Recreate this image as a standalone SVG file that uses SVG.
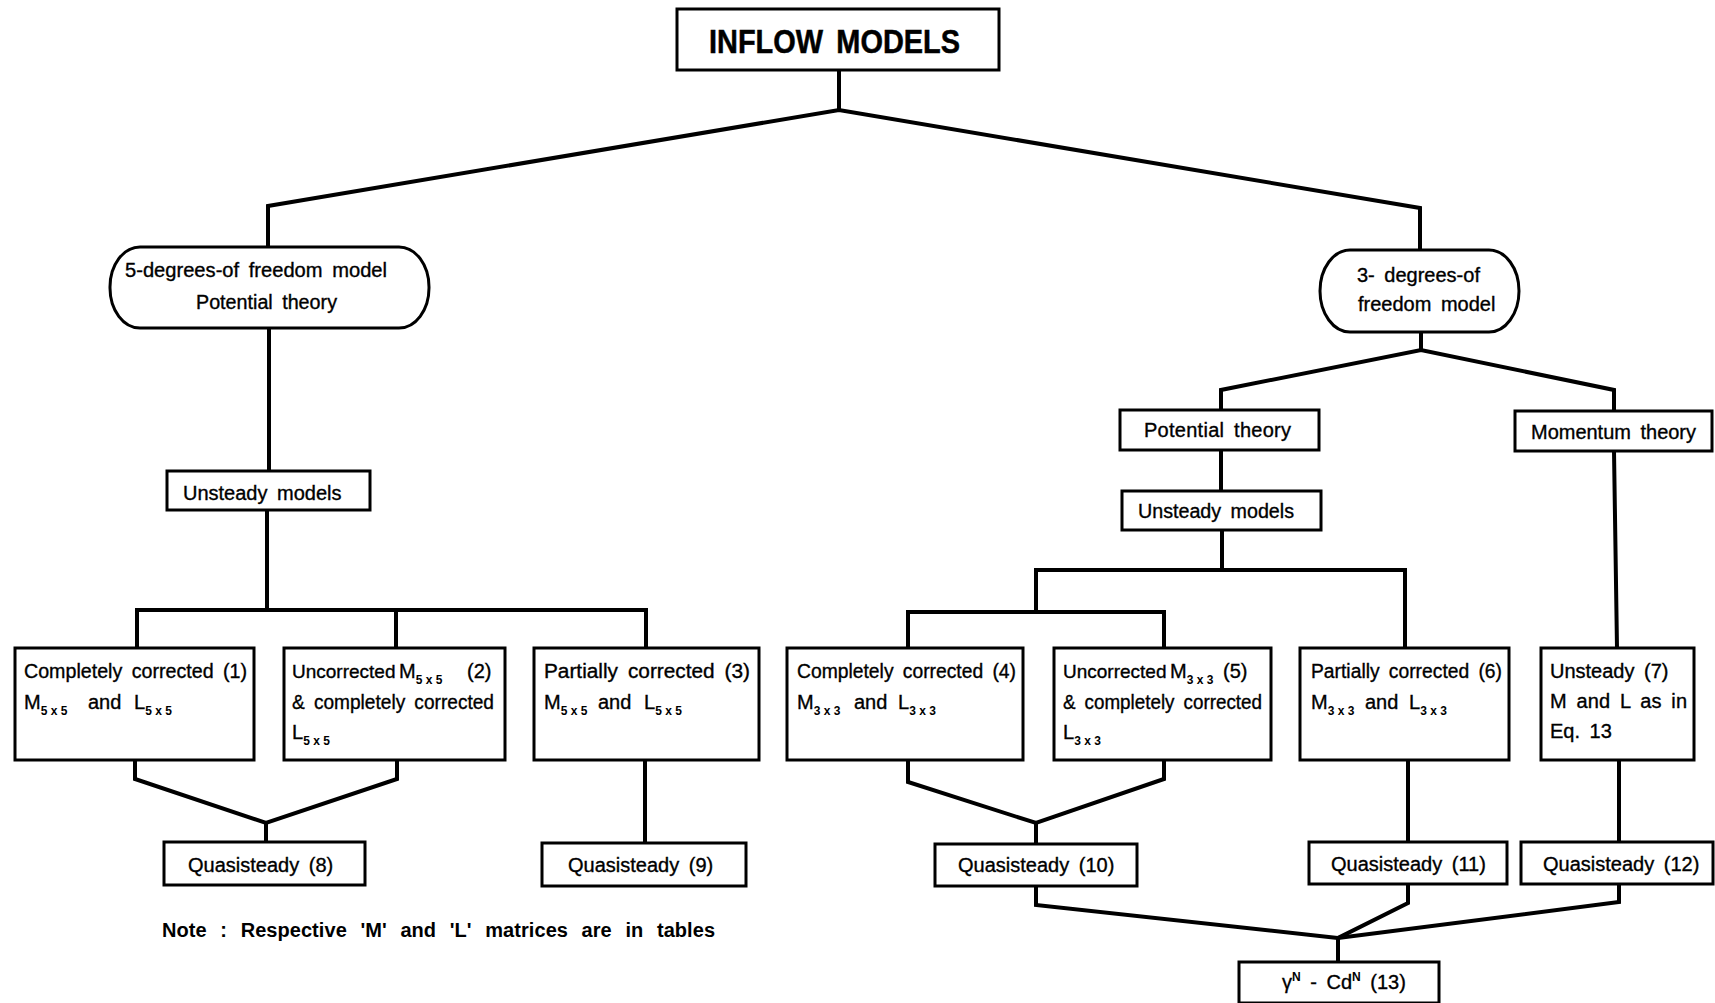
<svg xmlns="http://www.w3.org/2000/svg" width="1715" height="1003" viewBox="0 0 1715 1003">
<style>
  .bg{fill:#ffffff}
  .box{fill:#ffffff;stroke:#000;stroke-width:3}
  .conn{fill:none;stroke:#000;stroke-width:4;stroke-linejoin:miter;stroke-linecap:square}
  text{font-family:"Liberation Sans",Arial,sans-serif;font-size:20px;fill:#000;stroke:#000;stroke-width:0.35;word-spacing:4px}
  .title{font-size:33px;font-weight:bold;word-spacing:6px;stroke-width:0.5}
  .note{font-weight:bold;word-spacing:8px;stroke-width:0}
  .sub{font-size:12px;font-weight:bold;word-spacing:0;stroke-width:0}
  .sup{font-size:12px;font-weight:bold;stroke-width:0}
  .nar{font-size:19px}
</style>
<rect class="bg" x="0" y="0" width="1715" height="1003"/>

<g id="connectors">
  <path class="conn" d="M839,70 V110"/>
  <path class="conn" d="M268,247 V206 L839,110 L1420,208 V250"/>
  <path class="conn" d="M269,328 V471"/>
  <path class="conn" d="M267,510 V610"/>
  <path class="conn" d="M137,648 V610 H646 V648"/>
  <path class="conn" d="M396,610 V648"/>
  <path class="conn" d="M135,760 V779 L266,823 L397,779 V760"/>
  <path class="conn" d="M266,823 V841"/>
  <path class="conn" d="M645,760 V842"/>
  <path class="conn" d="M1421,332 V350"/>
  <path class="conn" d="M1221,410 V390 L1421,350 L1614,390 V411"/>
  <path class="conn" d="M1221,450 V491"/>
  <path class="conn" d="M1222,530 V570"/>
  <path class="conn" d="M1036,612 V570 H1405 V648"/>
  <path class="conn" d="M908,648 V612 H1164 V648"/>
  <path class="conn" d="M1614,451 L1617,648"/>
  <path class="conn" d="M908,760 V782 L1036,823 L1164,779 V760"/>
  <path class="conn" d="M1036,823 V844"/>
  <path class="conn" d="M1408,760 V842"/>
  <path class="conn" d="M1619,760 V842"/>
  <path class="conn" d="M1036,886 V905 L1338,938"/>
  <path class="conn" d="M1408,884 V903 L1338,938"/>
  <path class="conn" d="M1619,884 V902 L1338,938"/>
  <path class="conn" d="M1338,938 V961"/>
</g>

<g id="inflow-models">
  <rect class="box" x="677" y="9" width="322" height="61"/>
  <text class="title" x="709" y="53" textLength="251" lengthAdjust="spacingAndGlyphs">INFLOW MODELS</text>
</g>

<g id="five-dof">
  <rect class="box" x="110" y="247" width="319" height="81" rx="30" ry="40"/>
  <text x="125" y="277" textLength="262" lengthAdjust="spacingAndGlyphs">5-degrees-of freedom model</text>
  <text x="196" y="309" textLength="141" lengthAdjust="spacingAndGlyphs">Potential theory</text>
</g>

<g id="unsteady-left">
  <rect class="box" x="167" y="471" width="203" height="39"/>
  <text x="183" y="500">Unsteady models</text>
</g>

<g id="box1">
  <rect class="box" x="15" y="648" width="239" height="112"/>
  <text x="24" y="678" textLength="223" lengthAdjust="spacingAndGlyphs">Completely corrected (1)</text>
  <text x="24" y="709">M<tspan class="sub" dy="6">5 x 5</tspan><tspan x="88" dy="-6">and</tspan><tspan x="134">L</tspan><tspan class="sub" dy="6">5 x 5</tspan></text>
</g>

<g id="box2">
  <rect class="box" x="284" y="648" width="221" height="112"/>
  <text x="292" y="678"><tspan class="nar">Uncorrected</tspan><tspan x="399">M</tspan><tspan class="sub" dy="6">5 x 5</tspan><tspan x="467" dy="-6">(2)</tspan></text>
  <text x="292" y="709" textLength="202" lengthAdjust="spacingAndGlyphs">&amp; completely corrected</text>
  <text x="292" y="739">L<tspan class="sub" dy="6">5 x 5</tspan></text>
</g>

<g id="box3">
  <rect class="box" x="534" y="648" width="225" height="112"/>
  <text x="544" y="678" textLength="206" lengthAdjust="spacingAndGlyphs">Partially corrected (3)</text>
  <text x="544" y="709">M<tspan class="sub" dy="6">5 x 5</tspan><tspan x="598" dy="-6">and</tspan><tspan x="644">L</tspan><tspan class="sub" dy="6">5 x 5</tspan></text>
</g>

<g id="quasi8">
  <rect class="box" x="164" y="842" width="201" height="43"/>
  <text x="188" y="872">Quasisteady (8)</text>
</g>

<g id="quasi9">
  <rect class="box" x="542" y="843" width="204" height="43"/>
  <text x="568" y="872">Quasisteady (9)</text>
</g>

<g id="note">
  <text class="note" x="162" y="937" textLength="553" lengthAdjust="spacing">Note :  Respective  'M'  and  'L'  matrices  are  in  tables</text>
</g>

<g id="three-dof">
  <rect class="box" x="1320" y="250" width="199" height="82" rx="30" ry="41"/>
  <text x="1357" y="282">3- degrees-of</text>
  <text x="1358" y="311">freedom model</text>
</g>

<g id="potential-right">
  <rect class="box" x="1120" y="410" width="199" height="40"/>
  <text x="1144" y="437" textLength="147" lengthAdjust="spacing">Potential theory</text>
</g>

<g id="momentum">
  <rect class="box" x="1515" y="411" width="197" height="40"/>
  <text x="1531" y="439" textLength="165" lengthAdjust="spacingAndGlyphs">Momentum theory</text>
</g>

<g id="unsteady-right">
  <rect class="box" x="1122" y="491" width="199" height="39"/>
  <text x="1138" y="518" textLength="156" lengthAdjust="spacingAndGlyphs">Unsteady models</text>
</g>

<g id="box4">
  <rect class="box" x="787" y="648" width="236" height="112"/>
  <text x="797" y="678" textLength="219" lengthAdjust="spacingAndGlyphs">Completely corrected (4)</text>
  <text x="797" y="709">M<tspan class="sub" dy="6">3 x 3</tspan><tspan x="854" dy="-6">and</tspan><tspan x="898">L</tspan><tspan class="sub" dy="6">3 x 3</tspan></text>
</g>

<g id="box5">
  <rect class="box" x="1054" y="648" width="217" height="112"/>
  <text x="1063" y="678"><tspan class="nar">Uncorrected</tspan><tspan x="1170">M</tspan><tspan class="sub" dy="6">3 x 3</tspan><tspan x="1223" dy="-6">(5)</tspan></text>
  <text x="1063" y="709" textLength="199" lengthAdjust="spacingAndGlyphs">&amp; completely corrected</text>
  <text x="1063" y="739">L<tspan class="sub" dy="6">3 x 3</tspan></text>
</g>

<g id="box6">
  <rect class="box" x="1300" y="648" width="209" height="112"/>
  <text x="1311" y="678" textLength="191" lengthAdjust="spacingAndGlyphs">Partially corrected (6)</text>
  <text x="1311" y="709">M<tspan class="sub" dy="6">3 x 3</tspan><tspan x="1365" dy="-6">and</tspan><tspan x="1409">L</tspan><tspan class="sub" dy="6">3 x 3</tspan></text>
</g>

<g id="box7">
  <rect class="box" x="1541" y="648" width="153" height="112"/>
  <text x="1550" y="678">Unsteady (7)</text>
  <text x="1550" y="708" textLength="137" lengthAdjust="spacing">M and L as in</text>
  <text x="1550" y="738">Eq. 13</text>
</g>

<g id="quasi10">
  <rect class="box" x="935" y="844" width="202" height="42"/>
  <text x="958" y="872">Quasisteady (10)</text>
</g>

<g id="quasi11">
  <rect class="box" x="1309" y="842" width="198" height="42"/>
  <text x="1331" y="871">Quasisteady (11)</text>
</g>

<g id="quasi12">
  <rect class="box" x="1521" y="842" width="192" height="42"/>
  <text x="1543" y="871">Quasisteady (12)</text>
</g>

<g id="box13">
  <rect class="box" x="1239" y="962" width="200" height="41"/>
  <text x="1282" y="989">γ<tspan class="sup" dy="-8">N</tspan><tspan dy="8"> - Cd</tspan><tspan class="sup" dy="-8">N</tspan><tspan dy="8">  (13)</tspan></text>
</g>
</svg>
